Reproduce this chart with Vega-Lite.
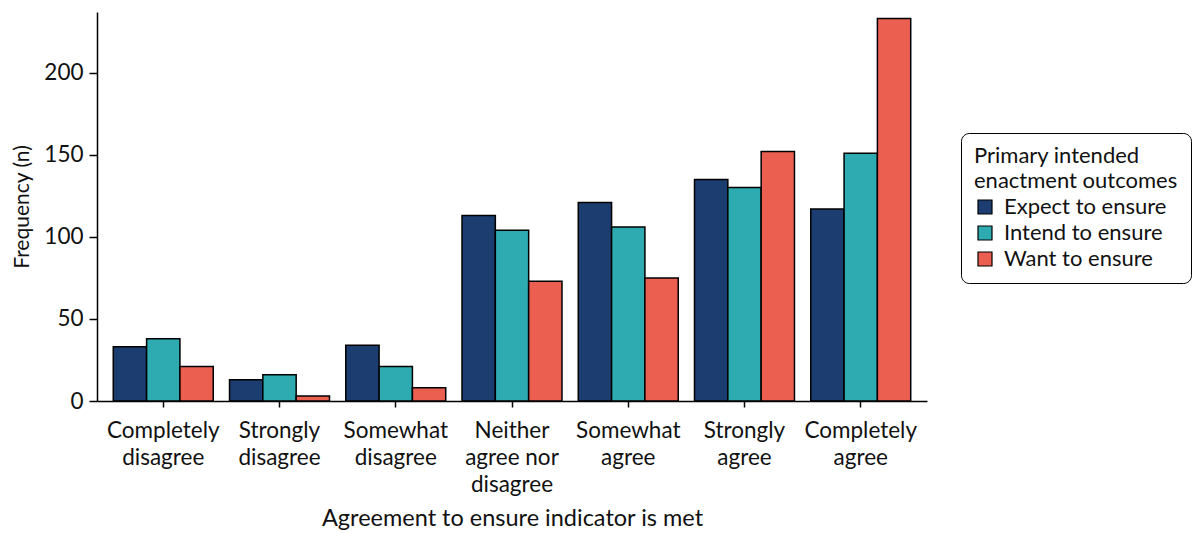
{
  "$schema": "https://vega.github.io/schema/vega-lite/v6.json",
  "width": 830,
  "height": 389,
  "autosize": {"type": "none"},
  "padding": {"left": 97, "top": 12, "right": 268, "bottom": 132},
  "background": "white",
  "config": {
    "view": {"stroke": null},
    "font": "Lato",
    "axis": {"labelFont": "Lato", "titleFont": "Lato", "labelColor": "#111", "titleColor": "#111", "domainColor": "#000", "tickColor": "#000", "grid": false, "titleFontWeight": "normal"},
    "legend": {"labelFont": "Lato", "titleFont": "Lato"}
  },
  "data": {
    "values": [
      {"agreement": "Completely disagree", "outcome": "Expect to ensure", "n": 33},
      {"agreement": "Completely disagree", "outcome": "Intend to ensure", "n": 38},
      {"agreement": "Completely disagree", "outcome": "Want to ensure", "n": 21},
      {"agreement": "Strongly disagree", "outcome": "Expect to ensure", "n": 13},
      {"agreement": "Strongly disagree", "outcome": "Intend to ensure", "n": 16},
      {"agreement": "Strongly disagree", "outcome": "Want to ensure", "n": 3},
      {"agreement": "Somewhat disagree", "outcome": "Expect to ensure", "n": 34},
      {"agreement": "Somewhat disagree", "outcome": "Intend to ensure", "n": 21},
      {"agreement": "Somewhat disagree", "outcome": "Want to ensure", "n": 8},
      {"agreement": "Neither agree nor disagree", "outcome": "Expect to ensure", "n": 113},
      {"agreement": "Neither agree nor disagree", "outcome": "Intend to ensure", "n": 104},
      {"agreement": "Neither agree nor disagree", "outcome": "Want to ensure", "n": 73},
      {"agreement": "Somewhat agree", "outcome": "Expect to ensure", "n": 121},
      {"agreement": "Somewhat agree", "outcome": "Intend to ensure", "n": 106},
      {"agreement": "Somewhat agree", "outcome": "Want to ensure", "n": 75},
      {"agreement": "Strongly agree", "outcome": "Expect to ensure", "n": 135},
      {"agreement": "Strongly agree", "outcome": "Intend to ensure", "n": 130},
      {"agreement": "Strongly agree", "outcome": "Want to ensure", "n": 152},
      {"agreement": "Completely agree", "outcome": "Expect to ensure", "n": 117},
      {"agreement": "Completely agree", "outcome": "Intend to ensure", "n": 151},
      {"agreement": "Completely agree", "outcome": "Want to ensure", "n": 233}
    ]
  },
  "mark": {"type": "bar", "stroke": "#000", "strokeWidth": 1.5},
  "encoding": {
    "x": {
      "field": "agreement",
      "type": "nominal",
      "sort": ["Completely disagree", "Strongly disagree", "Somewhat disagree", "Neither agree nor disagree", "Somewhat agree", "Strongly agree", "Completely agree"],
      "scale": {"paddingInner": 0.14, "paddingOuter": 0.14},
      "axis": {
        "title": "Agreement to ensure indicator is met",
        "labelAngle": 0,
        "labelFontSize": 22.5,
        "labelLineHeight": 27,
        "labelPadding": 12,
        "labelBaseline": "top",
        "labelExpr": "datum.value == 'Neither agree nor disagree' ? ['Neither', 'agree nor', 'disagree'] : split(datum.value, ' ')",
        "titleFontSize": 23.5,
        "titlePadding": 11,
        "tickSize": 6,
        "tickWidth": 1.5,
        "domainWidth": 1.5
      }
    },
    "xOffset": {"field": "outcome", "type": "nominal", "sort": ["Expect to ensure", "Intend to ensure", "Want to ensure"]},
    "y": {
      "field": "n",
      "type": "quantitative",
      "scale": {"domain": [0, 237], "nice": false},
      "axis": {
        "title": "Frequency (n)",
        "values": [0, 50, 100, 150, 200],
        "labelFontSize": 22.5,
        "titleFontSize": 21,
        "titlePadding": 11,
        "tickSize": 8,
        "tickWidth": 1.5,
        "domainWidth": 1.5,
        "labelPadding": 6
      }
    },
    "color": {
      "field": "outcome",
      "type": "nominal",
      "sort": ["Expect to ensure", "Intend to ensure", "Want to ensure"],
      "scale": {"domain": ["Expect to ensure", "Intend to ensure", "Want to ensure"], "range": ["#1b3d6f", "#2eabb1", "#eb5f51"]},
      "legend": {
        "title": ["Primary intended", "enactment outcomes"],
        "orient": "none",
        "legendX": 864,
        "legendY": 121,
        "titleFontSize": 22,
        "titleFontWeight": "normal",
        "titleLineHeight": 25,
        "titleColor": "#111",
        "titleLimit": 400,
        "labelFontSize": 22,
        "labelColor": "#111",
        "labelLimit": 400,
        "labelOffset": 8,
        "symbolType": "square",
        "symbolSize": 196,
        "symbolStrokeColor": "#000",
        "symbolStrokeWidth": 1.2,
        "rowPadding": 4,
        "padding": 13,
        "strokeColor": "#000",
        "cornerRadius": 8,
        "titlePadding": 3
      }
    }
  }
}
